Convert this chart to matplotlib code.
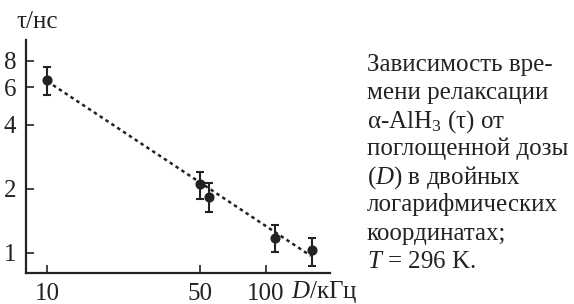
import numpy as np
import matplotlib
matplotlib.use('Agg')
import matplotlib.pyplot as plt
from matplotlib.ticker import FixedLocator, NullLocator

plt.rcParams['font.family'] = ['Liberation Serif', 'DejaVu Serif']
plt.rcParams['mathtext.fontset'] = 'custom'
plt.rcParams['mathtext.rm'] = 'Liberation Serif'
plt.rcParams['mathtext.it'] = 'Liberation Serif:italic'

# data
dose = [10, 50, 55, 110, 163]
tau = [6.5, 2.1, 1.84, 1.17, 1.03]
tau_hi = [7.5, 2.41, 2.13, 1.35, 1.18]
tau_lo = [5.5, 1.79, 1.56, 1.01, 0.87]

fit_dose = [10, 160]
fit_tau = [6.4, 0.97]

x_ticks = [10, 50, 100]
y_ticks = [1, 2, 4, 6, 8]

caption = ['Зависимость вре-',
           'мени релаксации',
           'α-AlH$_3$ (τ) от',
           'поглощенной дозы',
           '($D$) в двойных',
           'логарифмических',
           'координатах;',
           '$T$ = 296 K.']

ink = '#222222'
fs = 18

fig = plt.figure(figsize=(5.74, 3.04), dpi=100)
ax = fig.add_axes([26/574, 31/304, 304/574, 233/304])

ax.plot(fit_dose, fit_tau, color=ink, lw=1.8, ls=(0, (1.4, 1.4)))
err = [np.array(tau) - np.array(tau_lo), np.array(tau_hi) - np.array(tau)]
ax.errorbar(dose, tau, yerr=err, fmt='o', color=ink, ms=6.3,
            elinewidth=1.5, capsize=3, capthick=1.5)

ax.set_xscale('log')
ax.set_yscale('log')
ax.set_xlim(8, 196)
ax.set_ylim(0.805, 10.0)

ax.xaxis.set_major_locator(FixedLocator(x_ticks))
ax.yaxis.set_major_locator(FixedLocator(y_ticks))
ax.xaxis.set_minor_locator(NullLocator())
ax.yaxis.set_minor_locator(NullLocator())
ax.set_xticklabels([str(v) for v in x_ticks])
ax.set_yticklabels([str(v) for v in y_ticks])
ax.tick_params(direction='in', length=5.8, width=1.2, color=ink,
               labelsize=fs, labelcolor=ink, pad=7)

for s in ['top', 'right']:
    ax.spines[s].set_visible(False)
for s in ['left', 'bottom']:
    ax.spines[s].set_linewidth(1.6)
    ax.spines[s].set_color(ink)

fig.text(37/574, 1 - 28/304, 'τ/нс', ha='center', va='baseline',
         fontsize=fs, color=ink)
fig.text(291/574, 1 - 298/304, '$D$/кГц', ha='left', va='baseline',
         fontsize=fs, color=ink)

for i, line in enumerate(caption):
    fig.text(367/574, 1 - (71 + 28.1*i)/304, line, ha='left', va='baseline',
             fontsize=fs, color=ink)

fig.savefig('out.png', dpi=100)
